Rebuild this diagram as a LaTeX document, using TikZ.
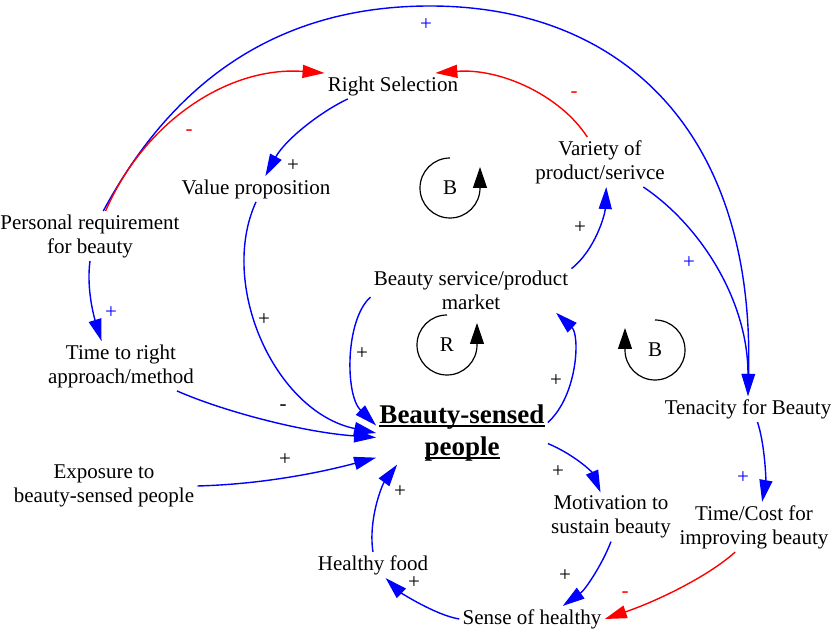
\documentclass[tikz,border=0pt]{standalone}
\usepackage{fontspec}
\setmainfont{Liberation Serif}
\usetikzlibrary{arrows.meta}
\newcommand{\ulbf}[1]{\leavevmode\setbox0\hbox{#1}\rlap{\rule[-1.8pt]{\wd0}{1pt}}\box0}

\begin{document}
\begin{tikzpicture}[x=0.5pt, y=-0.5pt]
  \tikzstyle{factor} = [align=center, inner sep=1.5pt, font=\fontsize{10.5}{12}\selectfont]
  \tikzstyle{core} = [align=center, inner sep=1.5pt, font=\fontsize{13.5}{16}\selectfont\bfseries]
  \tikzstyle{arrow} = [blue, line width=0.7pt, -{Triangle[length=11pt,width=6.5pt]}]
  \tikzstyle{negarrow} = [arrow, red]
  \tikzstyle{sign} = [inner sep=0pt, font=\fontsize{10.5}{12}\selectfont]
  \tikzstyle{loopline} = [black, line width=0.6pt, -{Triangle[length=10.5pt,width=7pt]}]

  \useasboundingbox (0,0) rectangle (831,630);

  \node (rs) [factor] at (393,86) {Right Selection};
  \node (vp) [factor] at (256,189) {Value proposition};
  \node (pers) [factor] at (90,236) {Personal requirement\\for beauty};
  \node (var) [factor] at (600,162) {Variety of\\product/serivce};
  \node (bms) [factor] at (471,290) {Beauty service/product\\market};
  \node (time) [factor] at (121,366) {Time to right\\approach/method};
  \node (bsp) [core] at (462,433) {\ulbf{Beauty-sensed}\\\ulbf{people}};
  \node (exp) [factor] at (104,486) {Exposure to\\beauty-sensed people};
  \node (ten) [factor] at (748,409) {Tenacity for Beauty};
  \node (mot) [factor] at (611,517) {Motivation to\\sustain beauty};
  \node (tc) [factor] at (754,527) {Time/Cost for\\improving beauty};
  \node (hf) [factor] at (373,565) {Healthy food};
  \node (sh) [factor] at (532,619) {Sense of healthy};

  % links
  \draw [arrow] (pers.62) .. controls (163,100) and (260,6) .. (430,6) .. controls (620,6) and (755,130) .. (ten.north);
  \draw [negarrow] (pers.58) .. controls (145,120) and (230,66) .. (rs.north west);
  \draw [negarrow] (var.117) .. controls (560,95) and (500,68) .. (rs.17);
  \draw [arrow] (rs.196) .. controls (320,112) and (285,140) .. (vp.54);
  \draw [arrow] (vp.south) .. controls (218,285) and (275,412) .. (bsp.180);
  \draw [arrow] (pers.south) .. controls (86,290) and (95,320) .. (time.128);
  \draw [arrow] (time.-24) .. controls (220,410) and (300,432) .. (bsp.183);
  \draw [arrow] (exp.east) .. controls (270,484) and (330,470) .. (bsp.196);
  \draw [arrow] (bms.184) .. controls (345,320) and (345,395) .. (bsp.175);
  \draw [arrow] (bsp.7) .. controls (578,395) and (580,335) .. (bms.-15);
  \draw [arrow] (bsp.-7) .. controls (575,455) and (592,472) .. (mot.113);
  \draw [arrow] (bms.12) .. controls (595,250) and (605,215) .. (var.-76);
  \draw [arrow] (var.-30) .. controls (700,225) and (748,300) .. (ten.north);
  \draw [arrow] (ten.-54) .. controls (765,445) and (766,480) .. (tc.72);
  \draw [arrow] (mot.south) .. controls (602,565) and (585,590) .. (sh.23);
  \draw [negarrow] (tc.-127) .. controls (710,575) and (660,600) .. (sh.east);
  \draw [arrow] (sh.west) .. controls (435,615) and (400,592) .. (hf.-46);
  \draw [arrow] (hf.north) .. controls (368,520) and (382,485) .. (bsp.206);

  % polarities
  \node (s1) [sign, blue] at (426,25) {+};
  \node (s2) [sign, red] at (189,133) {-};
  \node (s3) [sign, red] at (574,95) {-};
  \node (s4) [sign] at (293,166) {+};
  \node (s5) [sign] at (580,228) {+};
  \node (s6) [sign, blue] at (689,263) {+};
  \node (s7) [sign, blue] at (111,313) {+};
  \node (s8) [sign] at (264,320) {+};
  \node (s9) [sign] at (362,354) {+};
  \node (s10) [sign] at (556,381) {+};
  \node (s11) [sign] at (283,408) {-};
  \node (s12) [sign] at (285,460) {+};
  \node (s13) [sign] at (558,472) {+};
  \node (s14) [sign, blue] at (743,478) {+};
  \node (s15) [sign] at (400,492) {+};
  \node (s16) [sign] at (565,576) {+};
  \node (s17) [sign, red] at (625,595) {-};
  \node (s18) [sign] at (414,583) {+};

  % loops
  \node (l1) [sign] at (450,188) {B};
  \draw [loopline] (450,158) arc [start angle=90, end angle=360, radius=15pt] -- ++(0,-21);
  \node (l2) [sign] at (447,345) {R};
  \draw [loopline] (447,315) arc [start angle=90, end angle=360, radius=15pt] -- ++(0,-22);
  \node (l3) [sign] at (655,350) {B};
  \draw [loopline] (655,320) arc [start angle=90, end angle=-180, radius=15pt] -- ++(0,-22);
\end{tikzpicture}
\end{document}
